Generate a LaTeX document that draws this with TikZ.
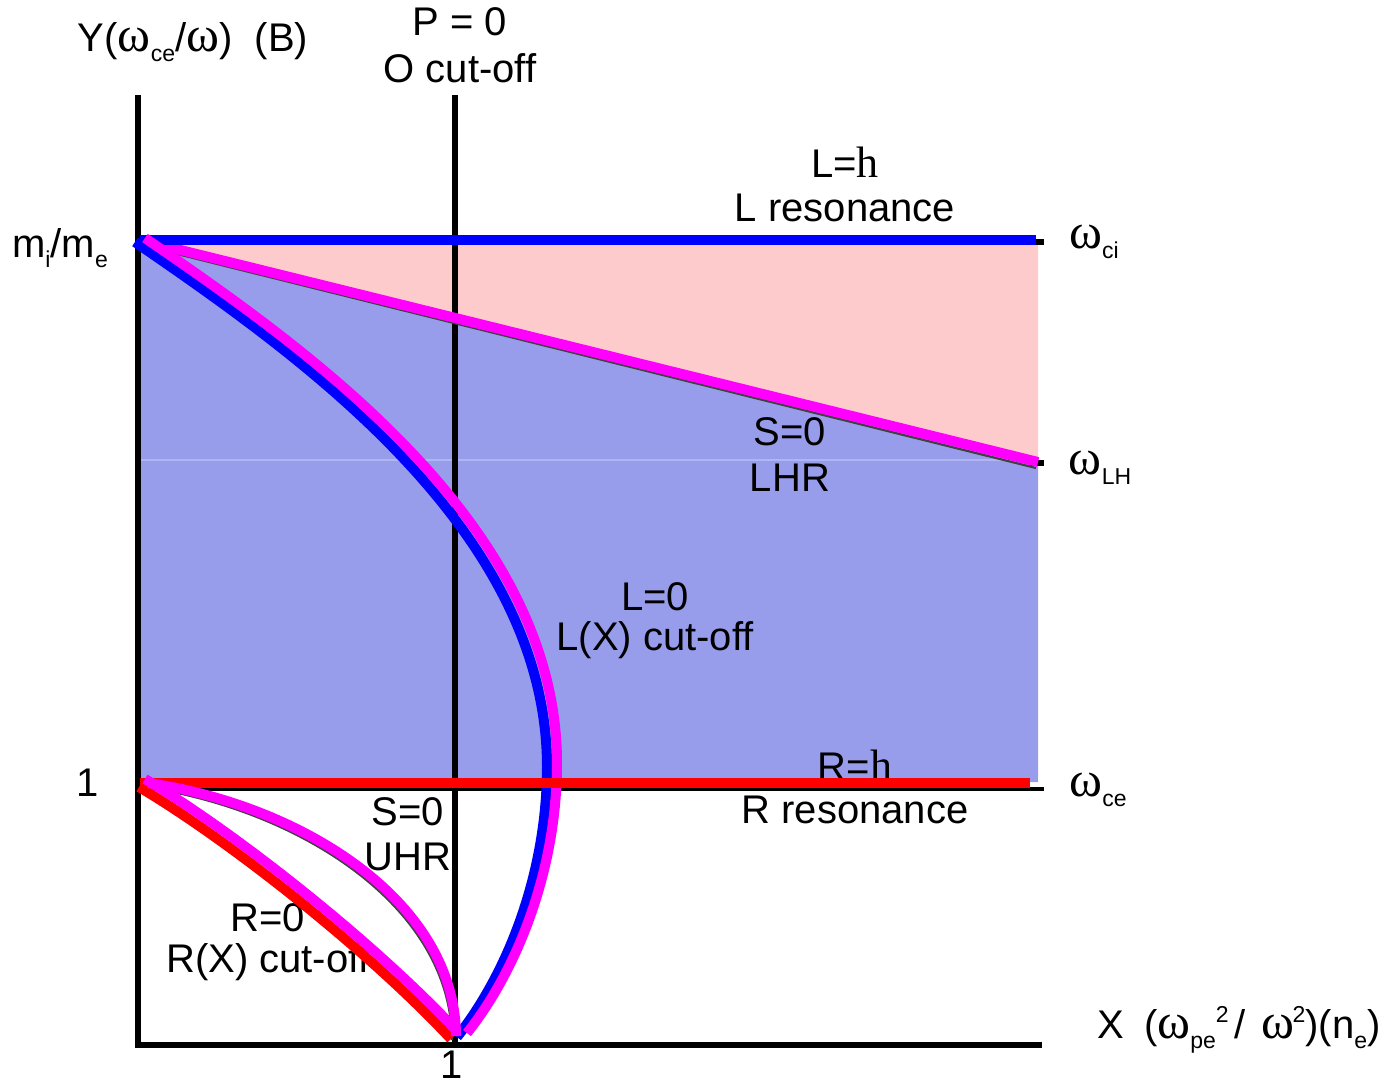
\documentclass[tikz,border=0pt]{standalone}
\usepackage{fontspec}
\setmainfont{Liberation Sans}
\newfontfamily\serifw{Liberation Serif}
\newcommand{\omg}{{\serifw\fontsize{25}{25}\selectfont ω}}
\newcommand{\lsub}[1]{\raisebox{-0.45ex}{\fontsize{11.5}{11.5}\selectfont #1}}
\newcommand{\lsup}[1]{\raisebox{0.75ex}{\fontsize{11.5}{11.5}\selectfont #1}}
\newcommand{\lzeropath}{(140,240) .. controls (300,350) and (552,525) .. (552,765) .. controls (552,875) and (510,975) .. (462,1035)}
\newcommand{\rzeropath}{(142,783) .. controls (230,835) and (370,945) .. (454,1035)}
\newcommand{\uhrpath}{(148,783) .. controls (300,805) and (455,900) .. (456,1036)}
\definecolor{mag}{RGB}{255,0,255}
\definecolor{blu}{RGB}{0,0,255}
\definecolor{rd}{RGB}{255,0,0}
\definecolor{lav}{RGB}{152,157,235}
\definecolor{pnk}{RGB}{253,203,203}
\begin{document}
\begin{tikzpicture}[x=0.5pt,y=-0.5pt,
  lbl/.style={font=\fontsize{20}{23}\selectfont, inner sep=0pt, align=center},
  axis/.style={line width=3pt, black},
  thick line/.style={line width=5pt},
  thin under/.style={line width=1.1pt, black!75}]
\useasboundingbox (0,0) rectangle (1394,1084);
% coordinates
\coordinate (topL) at (138,95);
\coordinate (Xend) at (1042,1045);
\coordinate (Pt) at (455,95);
\coordinate (Pb) at (455,1045);
\coordinate (A) at (140,240);
\coordinate (Aci) at (1036,240);
\coordinate (Alh) at (1038,462);
\coordinate (Ace) at (1038,782);
\coordinate (B) at (140,783);
% regions
\fill[pnk] (A) -- (1038,240) -- (Alh) -- cycle;
\fill[lav] (A) -- (Alh) -- (Ace) -- (B) -- cycle;
\draw[line width=0.8pt, white, opacity=0.25] (140,460) -- (1038,460);
% axes
\draw[axis] (topL) -- (138,1048);
\draw[axis] (135,1045) -- (Xend);
\draw[line width=2.6pt] (Pt) -- (Pb);
% ticks
\draw[line width=3pt] (1030,242) -- (1044,242);
\draw[line width=3pt] (1030,463) -- (1044,463);
\draw[line width=1.8pt] (140,789) -- (1044,789);
% texts
\node[lbl] (ylab) at (193,42) {Y(\omg\lsub{ce}/\omg)\ \ (B)};
\node[lbl] (p0) at (460,22) {P = 0};
\node[lbl] (ocut) at (460,68) {O cut-off};
\node[lbl] (mime) at (60,248) {m\lsub{i}/m\lsub{e}};
\node[lbl] (wci) at (1094,242) {\omg\lsub{ci}};
\node[lbl] (wlh) at (1100,468) {\omg\lsub{LH}};
\node[lbl] (wce) at (1098,790) {\omg\lsub{ce}};
\node[lbl] (one1) at (88,783) {1};
\node[lbl, anchor=base] (one2) at (452,1078) {1};
\node[lbl, anchor=west] (xlab) at (1097,1030) {X\hspace{10pt}(\omg\lsub{pe}\lsup{2}\hspace{3pt}/\hspace{8pt}\omg\hspace{-1pt}\lsup{2})(n\lsub{e})};
\node[lbl] (lh) at (845,162) {L={\serifw\fontsize{22}{22}\selectfont h}};
\node[lbl] (lres) at (845,208) {L resonance};
\node[lbl] (s0a) at (790,432) {S=0};
\node[lbl] (lhr) at (790,478) {LHR};
\node[lbl] (l0) at (655,597) {L=0};
\node[lbl] (lcut) at (655,640) {L(X) cut-off};
\node[lbl] (rh) at (855,765) {R={\serifw\fontsize{22}{22}\selectfont h}};
\node[lbl] (rres) at (855,810) {R resonance};
\node[lbl] (s0b) at (408,812) {S=0};
\node[lbl] (uhr) at (408,857) {UHR};
\node[lbl] (r0) at (268,918) {R=0};
\node[lbl] (rcut) at (268,962) {R(X) cut-off};
% S=0 LHR line
\draw[thin under] (165,251) -- (1036,468);
\draw[thick line, mag] (A) -- (Alh);
% L resonance line
\draw[thick line, blu] (A) -- (Aci);
% L=0 curve (blue under, magenta beside)
\begin{scope}[shift={(-5,2)}]
  \draw[thick line, blu] \lzeropath;
\end{scope}
\begin{scope}[shift={(5,-2)}]
  \draw[thick line, mag] \lzeropath;
\end{scope}
% R resonance line
\draw[thick line, rd] (B) -- (1030,783);
% lower curves
\begin{scope}[shift={(-4,4)}]
  \draw[thin under] \uhrpath;
\end{scope}
\begin{scope}[shift={(-3,4)}]
  \draw[thick line, rd] \rzeropath;
\end{scope}
\begin{scope}[shift={(3,-4)}]
  \draw[thick line, mag] \rzeropath;
\end{scope}
\draw[thick line, mag] \uhrpath;
\end{tikzpicture}
\end{document}
